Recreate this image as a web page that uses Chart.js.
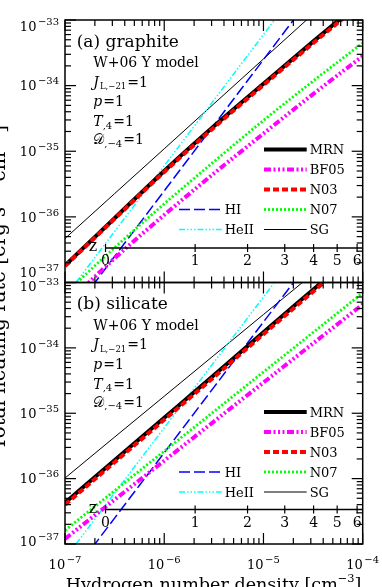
<!DOCTYPE html>
<html>
<head>
<meta charset="utf-8">
<script src="https://cdn.jsdelivr.net/npm/chart.js@4.4.0/dist/chart.umd.min.js"></script>
<style>
  body { margin: 0; background: #fff; width: 382px; height: 587px; overflow: hidden; position: relative; }
  .panel { position: absolute; left: 0; width: 382px; }
  #titles { position: absolute; left: 0; top: 0; pointer-events: none; }
</style>
</head>
<body>
<div class="panel" style="top:0;height:300px"><canvas id="graphiteChart" width="382" height="300"></canvas></div>
<div class="panel" style="top:265px;height:322px"><canvas id="silicateChart" width="382" height="322"></canvas></div>
<canvas id="titles" width="382" height="587"></canvas>
<script>
// Hydrogen number density [cm^-3] where the curves are sampled
const density = [1e-7, 3.16e-7, 1e-6, 3.16e-6, 1e-5, 3.16e-5, 1e-4];

// (a) graphite, total heating rate [erg s^-1 cm^-3]
const graphiteMRN  = [1.82e-37, 9.55e-37, 5.01e-36, 2.40e-35, 1.07e-34, 4.68e-34, 2.00e-33];
const graphiteBF05 = [4.47e-38, 2.34e-37, 1.07e-36, 4.57e-36, 1.86e-35, 7.41e-35, 2.82e-34];
const graphiteN03  = [1.78e-37, 9.33e-37, 4.84e-36, 2.29e-35, 1.02e-34, 4.42e-34, 1.86e-33];
const graphiteN07  = [6.76e-38, 3.39e-37, 1.58e-36, 6.92e-36, 2.95e-35, 1.17e-34, 4.47e-34];
const graphiteSG   = [4.68e-37, 2.26e-36, 1.09e-35, 5.27e-35, 2.55e-34, 1.23e-33, 5.94e-33];

// (b) silicate
const silicateMRN  = [4.27e-37, 1.91e-36, 8.51e-36, 3.80e-35, 1.74e-34, 7.76e-34, 3.47e-33];
const silicateBF05 = [1.20e-37, 4.76e-37, 1.88e-36, 7.46e-36, 2.95e-35, 1.17e-34, 4.62e-34];
const silicateN03  = [3.98e-37, 1.78e-36, 7.94e-36, 3.55e-35, 1.62e-34, 7.24e-34, 3.24e-33];
const silicateN07  = [1.62e-37, 6.53e-37, 2.63e-36, 1.06e-35, 4.27e-35, 1.72e-34, 6.92e-34];
const silicateSG   = [1.02e-36, 4.32e-36, 1.82e-35, 7.67e-35, 3.24e-34, 1.36e-33, 5.75e-33];

// gas photoionization heating, same in both panels
const gasHI   = [2.49e-38, 2.49e-37, 2.49e-36, 2.49e-35, 2.49e-34, 2.49e-33, 2.49e-32];
const gasHeII = [6.00e-38, 6.00e-37, 6.00e-36, 6.00e-35, 6.00e-34, 6.00e-33, 6.00e-32];

// axes
const yTickExponents = [-37, -36, -35, -34, -33];
const xTickExponents = [-7, -6, -5, -4];
const redshiftTicks = [0, 1, 2, 3, 4, 5, 6];
const densityAtZ0 = 2.56e-7; // n_H grows as (1+z)^3

const SERIF = '"DejaVu Serif", serif';

const styles = {
  MRN:  { color: '#000000', width: 4, dash: [] },
  BF05: { color: '#ff00ff', width: 4, dash: [7, 2.5, 2, 2.5, 2, 2.5, 2, 2.5] },
  N03:  { color: '#ff0000', width: 4, dash: [6, 3] },
  N07:  { color: '#00ff00', width: 2.8, dash: [2, 2] },
  SG:   { color: '#000000', width: 1, dash: [] },
  HI:   { color: '#0000ff', width: 1.5, dash: [11, 4] },
  HeII: { color: '#00ffff', width: 1.5, dash: [6, 2, 1.5, 2, 1.5, 2, 1.5, 2] }
};

function makeDataset(name, values) {
  const s = styles[name];
  return {
    label: name,
    data: density.map((n, i) => ({ x: n, y: values[i] })),
    borderColor: s.color,
    borderWidth: s.width,
    borderDash: s.dash,
    borderCapStyle: 'butt',
    pointRadius: 0,
    fill: false,
    cubicInterpolationMode: 'monotone'
  };
}

function font(size, italic) {
  return (italic ? 'italic ' : '') + size + 'px ' + SERIF;
}

// parts: {t, size, italic, dy, gap}
function drawRich(ctx, parts, x, y, align) {
  let w = 0;
  parts.forEach(p => {
    ctx.font = font(p.size, p.italic);
    w += ctx.measureText(p.t).width + (p.gap || 0);
  });
  let cx = align === 'center' ? x - w / 2 : (align === 'right' ? x - w : x);
  ctx.textAlign = 'left';
  ctx.textBaseline = 'alphabetic';
  parts.forEach(p => {
    ctx.font = font(p.size, p.italic);
    ctx.fillText(p.t, cx, y + (p.dy || 0));
    cx += ctx.measureText(p.t).width + (p.gap || 0);
  });
  return w;
}

// "10" with a superscript exponent, yc = vertical centre of "10"
function drawPower(ctx, exp, x, yc, align) {
  const parts = [
    { t: '10', size: 13, gap: 1.5 },
    { t: '\u2212' + Math.abs(exp), size: 10, dy: -6 }
  ];
  drawRich(ctx, parts, x, yc + 4.7, align);
}

function line(ctx, x1, y1, x2, y2) {
  ctx.beginPath();
  ctx.moveTo(x1, y1);
  ctx.lineTo(x2, y2);
  ctx.stroke();
}

function panelPlugin(cfg) {
  return {
    id: 'panelDecor',
    afterDraw(chart) {
      const ctx = chart.ctx;
      const xs = chart.scales.x, ys = chart.scales.y;
      const { left, right, top, bottom } = chart.chartArea;
      ctx.save();
      ctx.fillStyle = '#000';
      ctx.strokeStyle = '#000';
      ctx.setLineDash([]);

      // frame
      ctx.lineWidth = 1.5;
      ctx.strokeRect(left, top, right - left, bottom - top);

      // ticks on all four sides, pointing inward
      ctx.lineWidth = 1.2;
      for (let e = -7; e <= -4; e++) {
        for (let m = 1; m <= 9; m++) {
          if (e === -4 && m > 1) break;
          const px = xs.getPixelForValue(Number(m + 'e' + e));
          const len = m === 1 ? 11 : 6;
          line(ctx, px, bottom, px, bottom - len);
          line(ctx, px, top, px, top + len);
        }
      }
      for (let e = -37; e <= -33; e++) {
        for (let m = 1; m <= 9; m++) {
          if (e === -33 && m > 1) break;
          const py = ys.getPixelForValue(Number(m + 'e' + e));
          const len = m === 1 ? 11 : 6;
          line(ctx, left, py, left + len, py);
          line(ctx, right, py, right - len, py);
        }
      }

      // y tick labels
      yTickExponents.forEach(e => {
        let yc = ys.getPixelForValue(Number('1e' + e));
        if (e === -33) yc += cfg.topLabelShift;
        if (e === -37) yc += cfg.bottomLabelShift;
        drawPower(ctx, e, 59, yc, 'right');
      });

      // x tick labels (bottom panel only)
      if (cfg.xLabels) {
        xTickExponents.forEach(e => {
          const px = xs.getPixelForValue(Number('1e' + e));
          drawPower(ctx, e, px, bottom + 20.5, 'center');
        });
      }

      // redshift axis inside the panel
      const zy = bottom - 34.5;
      const z0 = xs.getPixelForValue(densityAtZ0);
      ctx.lineWidth = 1.5;
      line(ctx, z0, zy, right, zy);
      ctx.lineWidth = 1.2;
      ctx.font = font(14);
      ctx.textAlign = 'center';
      ctx.textBaseline = 'alphabetic';
      redshiftTicks.forEach(z => {
        const px = xs.getPixelForValue(densityAtZ0 * Math.pow(1 + z, 3));
        line(ctx, px, zy - 4, px, zy + 4);
        ctx.fillText(String(z), px, zy + 17);
      });
      ctx.font = font(16);
      ctx.fillText('z', left + 28, zy + 3);

      // panel annotations
      const ax = left + 28.3;
      drawRich(ctx, [{ t: cfg.title, size: 17 }], left + 11.7, top + 26.7);
      drawRich(ctx, [{ t: 'W+06 Y model', size: 14 }], ax, top + 47.3);
      drawRich(ctx, [
        { t: 'J', size: 14, italic: true, gap: 1 },
        { t: 'L,\u221221', size: 8.5, dy: 2.5, gap: 1 },
        { t: '=1', size: 14 }
      ], ax, top + 66.7);
      drawRich(ctx, [{ t: 'p', size: 14, italic: true, gap: 1 }, { t: '=1', size: 14 }], ax, top + 86);
      drawRich(ctx, [
        { t: 'T', size: 14, italic: true },
        { t: ',4', size: 10, dy: 2.5, gap: 1 },
        { t: '=1', size: 14 }
      ], ax, top + 106);
      drawRich(ctx, [
        { t: '\uD835\uDC9F', size: 14 },
        { t: ',\u22124', size: 10, dy: 2.5, gap: 1 },
        { t: '=1', size: 14 }
      ], ax, top + 124);

      // legend, two columns
      const legendRows = [
        ['MRN', 1, 0], ['BF05', 1, 1], ['N03', 1, 2], ['N07', 1, 3], ['SG', 1, 4],
        ['HI', 0, 3], ['HeII', 0, 4]
      ];
      legendRows.forEach(([name, col, row]) => {
        const s = styles[name];
        const y = top + 129.5 + row * 20;
        const x1 = col ? left + 199 : left + 114;
        const x2 = x1 + 42.7;
        ctx.strokeStyle = s.color;
        ctx.lineWidth = s.width;
        ctx.setLineDash(s.dash);
        ctx.lineCap = 'butt';
        line(ctx, x1, y, x2, y);
        ctx.setLineDash([]);
        drawRich(ctx, [{ t: name, size: 13 }], x2 + 3, y + 4.7);
      });

      // x axis title
      if (cfg.xLabels) {
        const base = 20;
        const parts = s => [
          { t: 'Hydrogen number density [cm', size: s },
          { t: '\u22123', size: s * 0.65, dy: -s * 0.42 },
          { t: ']', size: s }
        ];
        ctx.fillStyle = '#000';
        const w = drawRich(ctx, parts(base), -1000, -1000);
        const size = base * 296 / w;
        drawRich(ctx, parts(size), 65.7, 576.7 - 265 + size * 0.73);
      }
      ctx.restore();
    }
  };
}

function makeChart(id, sets, cfg, pad) {
  return new Chart(document.getElementById(id), {
    type: 'line',
    data: { datasets: sets },
    options: {
      responsive: false,
      animation: false,
      events: [],
      layout: { padding: pad },
      plugins: { legend: { display: false }, tooltip: { enabled: false } },
      scales: {
        x: { type: 'logarithmic', min: 1e-7, max: 1e-4, display: false },
        y: { type: 'logarithmic', min: 1e-37, max: 1e-33, display: false }
      }
    },
    plugins: [panelPlugin(cfg)]
  });
}

makeChart('graphiteChart', [
  makeDataset('N03', graphiteN03),
  makeDataset('MRN', graphiteMRN),
  makeDataset('BF05', graphiteBF05),
  makeDataset('N07', graphiteN07),
  makeDataset('HI', gasHI),
  makeDataset('HeII', gasHeII),
  makeDataset('SG', graphiteSG)
], { title: '(a) graphite', topLabelShift: 6, bottomLabelShift: -10, xLabels: false },
   { left: 65, right: 19.3, top: 20, bottom: 17.5 });

makeChart('silicateChart', [
  makeDataset('N03', silicateN03),
  makeDataset('MRN', silicateMRN),
  makeDataset('BF05', silicateBF05),
  makeDataset('N07', silicateN07),
  makeDataset('HI', gasHI),
  makeDataset('HeII', gasHeII),
  makeDataset('SG', silicateSG)
], { title: '(b) silicate', topLabelShift: 3.5, bottomLabelShift: -3, xLabels: true },
   { left: 65, right: 19.3, top: 17.5, bottom: 43 });

// y axis title across both panels
const tctx = document.getElementById('titles').getContext('2d');
const yParts = s => [
  { t: 'Total heating rate [erg s', size: s },
  { t: '\u22121', size: s * 0.65, dy: -s * 0.42 },
  { t: ' cm', size: s },
  { t: '\u22123', size: s * 0.65, dy: -s * 0.42 },
  { t: ']', size: s }
];
tctx.fillStyle = '#000';
const yw = drawRich(tctx, yParts(20), -1000, -1000);
tctx.save();
tctx.translate(4.5, 287.5);
tctx.rotate(-Math.PI / 2);
drawRich(tctx, yParts(20 * 325 / yw), 0, 0, 'center');
tctx.restore();
</script>
</body>
</html>
